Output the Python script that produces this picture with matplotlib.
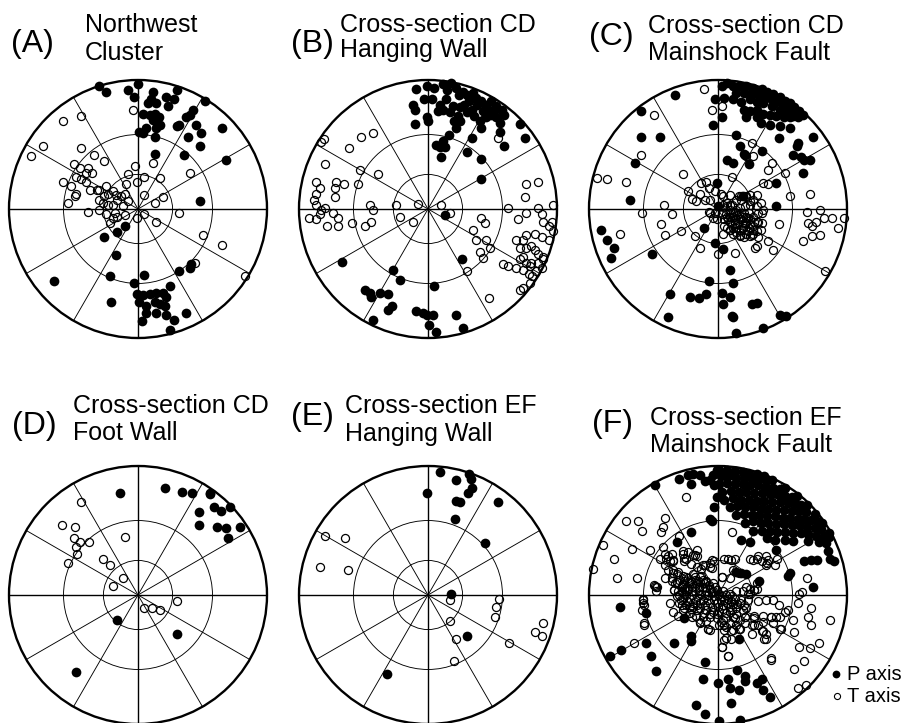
import matplotlib
matplotlib.use("Agg")
import matplotlib.pyplot as plt
import numpy as np
from matplotlib.patches import Circle
from matplotlib.lines import Line2D

plt.rcParams['font.family'] = ['Liberation Sans', 'DejaVu Sans']

# ---------------- data: projected positions (east, north) in % of primitive radius ----------------
A_P = [(-30,95),(-25,91),(-8,92),(0,97),(-3,87),(12,91),(30,92),(22,87),(28,85),(52,84),(10,85),(8,82),(14,82),(23,80),
       (4,74),(9,73),(13,74),(16,71),(12,69),(17,65),(14,63),(6,63),(1,60),(4,59),(13,56),(43,77),(40,73),(37,71),(32,65),
       (30,64),(45,65),(49,59),(65,63),(39,56),(48,49),(36,42),(13,43),(68,38),(48,6),
       (-10,-13),(-16,-18),(-26,-22),(-17,-36),(-22,-52),(-3,-57),(5,-51),(32,-48),(40,-46),(41,-43),(-1,-66),(4,-67),(9,-66),
       (14,-65),(19,-65),(25,-60),(22,-68),(1,-72),(6,-75),(13,-72),(17,-74),(21,-75),(6,-81),(14,-81),(22,-82),(28,-86),
       (37,-81),(3,-87),(25,-94),(-21,-72),(-65,-56)]
A_T = [(-4,77),(-58,68),(-44,72),(-74,49),(-83,41),(-44,47),(-34,42),(-26,37),(-50,35),(-45,32),(-39,32),(-40,28),(-36,28),
       (-48,25),(-44,23),(-58,21),(-52,18),(-40,21),(-37,15),(-32,15),(-48,12),(-54,5),(-49,10),(-30,7),(-26,10),(-23,12),
       (-19,14),(-17,11),(-27,5),(-23,3),(-19,3),(-16,7),(-13,10),(-10,12),(-9,19),(-8,27),(-2,33),(-1,21),(5,25),(17,24),
       (12,36),(40,28),(-8,6),(-12,2),(-18,-3),(-16,-6),(-19,-7),(-22,-11),(-25,-4),(-30,-1),(-39,-2),(-10,-5),(-1,-7),(5,11),
       (13,5),(19,9),(5,-4),(14,-10),(32,-3),(50,-20),(65,-28),(44,-42),(83,-52),(-25,18),(-30,15)]

B_P = [(-1,95),(5,94),(12,97),(18,98),(22,94),(27,91),(30,88),(35,90),(37,86),(41,84),(45,81),(49,84),(53,80),(57,77),
       (59,73),(53,71),(49,73),(45,71),(43,76),(40,68),(34,77),(28,81),(25,79),(19,80),(14,85),(12,77),(9,81),(8,76),(3,85),
       (-3,85),(0,68),(-1,71),(23,72),(25,68),(22,63),(41,63),(56,67),(56,60),(59,49),(71,66),(75,55),(34,55),(16,57),(12,53),
       (6,50),(9,48),(13,48),(10,40),(30,44),(41,39),
       (15,92),(24,88),(32,84),(38,81),(47,77),(51,76),(30,75),(36,72),(20,68),(17,75),
       (-9,93),(-12,81),(-10,77),(-10,66),(41,23),(13,-5),(26,-39),(5,-60),(-22,-55),(-27,-47),(-67,-41),(-49,-63),(-45,-65),
       (-44,-68),(-37,-65),(-31,-66),(-28,-75),(-31,-78),(-9,-79),(-4,-81),(-1,-82),(4,-82),(22,-82),(-43,-86),(1,-90),(6,-95),
       (27,-92)]
B_T = [(-83,52),(-81,54),(-61,47),(-52,56),(-43,59),(-80,35),(-39,27),(-53,30),(-54,19),(-65,19),(-71,21),(-72,16),(-72,9),
       (-87,21),(-84,16),(-87,12),(-88,7),(-87,3),(-83,-1),(-80,1),(-84,-4),(-92,-7),(-87,-8),(-74,-3),(-70,-7),(-70,-13),
       (-59,-11),(-78,-13),(-49,-13),(-44,-10),(-45,3),(-43,-1),(-25,3),(-22,-6),(-12,-10),(-8,4),(10,3),(17,-3),(54,55),
       (76,19),(85,21),(75,9),(62,1),(76,-3),(85,1),(88,-4),(70,-8),(89,-10),(96,-10),(97,3),(94,-13),(97,-17),(41,-7),(44,-11),
       (35,-16),(37,-24),(45,-24),(48,-30),(40,-33),(43,-38),(30,-48),(47,-69),(68,-24),(74,-24),(76,-20),(83,-19),(88,-22),
       (94,-24),(71,-30),(76,-30),(80,-29),(83,-32),(85,-35),(89,-37),(74,-37),(71,-39),(76,-42),(80,-42),(58,-43),(62,-44),
       (68,-46),(74,-47),(79,-44),(85,-42),(84,-48),(88,-46),(78,-50),(81,-52),(79,-57),(74,-61),(71,-63),(89,-39)]

C_P = [(7,98),(3,95),(12,95),(16,95),(22,95),(27,94),(34,93),(38,91),(43,89),(48,87),(52,84),(56,82),(59,79),(63,76),(66,73),
       (62,71),(14,90),(20,90),(25,89),(30,89),(35,87),(40,86),(45,83),(51,81),(56,78),(61,74),(5,86),(12,85),(18,83),(25,85),
       (30,83),(35,82),(42,80),(48,77),(53,76),(58,72),(20,77),(25,76),(30,77),(35,74),(40,73),(45,72),(51,71),(56,71),(22,71),
       (30,71),(33,67),(40,65),(48,64),(3,71),(-2,85),(-4,65),(14,57),(47,55),(56,63),(74,56),(62,51),(61,49),(58,42),(64,40),
       (67,38),(71,38),(66,28),(17,49),(20,43),(21,42),(34,45),(7,38),(12,36),(24,35),(45,20),(45,2),(-1,20),(-11,-15),
       (-2,-26),(4,-31),(9,-47),(-7,-56),(12,-57),(-37,-66),(-22,-68),(-15,-69),(-9,-66),(3,-65),(9,-68),(4,-74),(26,-74),
       (30,-73),(11,-83),(12,-84),(-39,-84),(14,-96),(35,-92),(48,-82),(53,-83),(-33,88),(-60,76),(-60,56),(-45,56),(-64,36),
       (-68,7),(-91,-16),(-86,-24),(-81,-30),(-83,-38),(-51,-35),(0,2),(19,10)]
C_T = [(-11,93),(-5,77),(3,80),(-50,73),(-60,42),(26,51),(22,41),(27,41),(42,36),(39,30),(52,28),(35,20),(39,19),(-27,27),
       (-23,14),(-13,20),(-9,21),(-7,16),(-14,12),(-10,7),(-17,6),(-20,8),(-6,7),(-2,14),(2,12),(4,10),(9,11),(11,25),(16,10),
       (18,7),(22,10),(25,6),(30,11),(33,5),(35,-1),(31,-3),(27,-6),(22,-6),(18,-3),(14,-1),(12,-3),(9,-6),(13,-8),(17,-8),
       (21,-11),(25,-12),(30,-10),(34,-11),(33,-16),(27,-19),(22,-19),(18,-16),(14,-15),(12,-19),(17,-21),(25,-21),(31,-22),
       (30,-29),(29,-30),(39,-25),(43,-32),(13,-34),(0,-35),(-14,-30),(-7,-2),(-6,-3),(-2,-3),(-4,-7),(-1,-8),(4,3),(7,2),
       (9,3),(5,-8),(7,-15),(9,-16),(4,-19),(-18,-21),(-29,-17),(-41,-20),(-44,-12),(-36,-4),(-42,3),(-59,-3),(-71,21),
       (-94,24),(-86,23),(-76,-19),(71,12),(69,-2),(79,-1),(88,-7),(98,-7),(82,-7),(76,-10),(70,-11),(73,-13),(93,-15),
       (66,-25),(73,-21),(79,-20),(83,-48),(47,-12),(56,10),
       (7,5),(11,3),(14,7),(18,10),(22,9),(9,-1),(13,-2),(17,1),(21,2),(25,3),(7,-6),(12,-6),(16,-4),(20,-3),(24,-3),(9,-10),
       (13,-11),(17,-8),(21,-10),(25,-8),(12,-15),(16,-16),(20,-13),(24,-15),(27,-13),(17,-20),(22,-19),(26,-20),(30,-17),
       (9,-16),(5,-13),(3,-4),(31,-10),(34,-3),(30,2),(27,7),(25,11),
       (10,-3),(15,-5),(19,-6),(23,-7),(11,-12),(15,-12),(19,-15),(23,-17),(14,-18),(20,-22),(27,-16),(28,-10),(8,-8),(6,-4)]

D_P = [(-14,79),(21,83),(34,80),(42,79),(56,79),(56,78),(59,68),(64,65),(71,68),(47,64),(47,54),(61,53),(68,52),(79,53),
       (70,44),(-16,-19),(30,-30),(-48,-60)]
D_T = [(-44,72),(-59,54),(-49,53),(-50,44),(-45,41),(-38,41),(-48,37),(-47,32),(-54,25),(-10,45),(-27,28),(-22,23),(-12,13),
       (-19,7),(5,-10),(11,-10),(17,-12),(30,-5)]

E_P = [(9,95),(32,94),(33,90),(22,89),(34,83),(31,79),(22,73),(25,72),(54,72),(-1,79),(21,59),(44,40),(18,1),(30,-32),(-32,-61)]
E_T = [(-80,46),(-64,44),(-84,22),(-62,19),(17,-4),(55,-3),(53,-9),(52,-17),(17,-20),(22,-34),(20,-51),(63,-37),(89,-22),
       (83,-29),(88,-32)]

F_P = [(1,97),(7,97),(13,96),(19,95),(24,94),(30,94),(36,92),
       (2,92),(8,92),(14,91),(20,91),(26,90),(32,90),(37,89),(42,89),
       (1,86),(7,87),(13,86),(19,86),(25,85),(31,85),(37,84),(43,83),(48,82),(52,83),
       (3,80),(10,81),(16,80),(22,80),(28,79),(34,79),(40,78),(46,78),(52,77),(57,76),(61,77),
       (5,74),(12,75),(18,74),(24,74),(30,73),(36,73),(42,72),(48,72),(54,71),(60,71),(64,70),(69,70),
       (9,68),(15,69),(21,68),(27,68),(33,67),(39,67),(45,66),(51,66),(57,65),(63,65),(68,64),(75,63),
       (14,62),(20,63),(26,62),(32,62),(38,61),(44,61),(50,60),(56,60),(62,59),(67,59),(72,58),(77,57),(81,56),
       (21,56),(27,57),(33,56),(39,56),(45,55),(51,55),(57,54),(63,54),(69,53),(75,52),(80,51),(86,48),
       (27,50),(34,50),(40,50),(46,49),(52,49),(58,48),(64,48),(70,47),(76,46),(82,46),(86,45),
       (38,44),(44,43),(52,43),(58,42),(70,42),(78,41),(84,40),
       (-49,85),(-30,90),(-23,93),(-19,94),(-14,93),(-21,86),(-10,88),(-6,89),(-4,93),(-1,97),(-3,85),(-1,76),(-3,68),(-6,59),
       (-5,57),(-21,49),(-32,41),
       (18,43),(25,41),(45,35),(56,17),(54,15),(32,11),(74,6),(14,18),(18,17),(22,16),(85,34),(90,26),(77,27),(72,27),(67,26),
       (87,28),
       (-76,-9),(-56,-14),(-84,-47),(-75,-43),(-56,-37),(-52,-47),(-48,-59),(-34,-37),(-21,-36),(-21,-32),(-10,-52),(15,-58),
       (-12,-65),(0,-68),(8,-65),(21,-63),(21,-67),(9,-72),(16,-74),(34,-65),(30,-68),(35,-74),(40,-79),(-17,-85),(-10,-92),
       (10,-84),(1,-98),(17,-97),(-26,-18),(16,-34)]
F_T = [(-25,76),(-71,57),(-62,57),(-59,50),(-41,60),(-43,53),(-44,49),(-30,46),(-89,39),(-67,36),(-53,35),(-43,37),(-81,28),
       (-97,20),(-78,13),(-63,13),(-49,7),(-48,6),(-58,-3),(-41,32),(-36,32),(-40,28),(-35,27),(-41,23),(-37,26),(-27,34),
       (-23,33),(-26,29),(-16,35),(-18,31),(-26,26),(-21,24),(-5,27),(-6,22),(-10,23),(-13,20),(-39,19),(-35,17),(-31,18),
       (-27,15),(-41,13),(-36,11),(-32,10),(-28,7),(-23,13),(-18,14),(-13,15),(-34,4),(-28,2),(-23,5),(-18,7),(-14,10),(-9,11),
       (11,49),(5,28),(10,27),(-3,26),(27,27),(30,28),(34,26),(38,25),(37,30),(46,28),(12,19),(3,14),(69,13),(63,1),(65,2),
       (28,4),(30,5),(23,1),
       (-35,19),(-32,16),(-36,13),(-30,12),(-25,14),(-19,16),(-14,14),(-9,10),(-4,9),(-27,8),(-22,9),(-17,9),(-12,6),(-6,5),
       (-1,4),(4,3),(9,1),(14,3),(19,3),(25,1),(-34,4),(-28,3),(-23,4),(-18,3),(-13,1),(-8,0),(-3,-1),(3,-1),(8,-3),(13,-3),
       (18,-4),(23,-4),(-32,-1),(-27,-3),(-22,-3),(-17,-4),(-12,-4),(-6,-6),(-1,-6),(4,-8),(9,-9),(14,-10),(19,-12),(-30,-6),
       (-25,-8),(-19,-9),(-14,-10),(-9,-12),(-4,-13),(1,-13),(6,-14),(12,-17),(17,-19),(-27,-12),(-22,-14),(-17,-16),(-12,-17),
       (-6,-17),(-1,-18),(4,-19),(9,-22),(14,-23),(6,-25),(12,-27),(17,-26),(-14,-21),(-8,-26),(-6,-27),(1,-23),(5,-27),
       (21,-17),(22,-10),(17,-6),(25,5),(28,4),(22,6),(-37,-6),(-35,-13),(-31,-16),(-58,-4),(-57,-8),(-50,8),(-47,6),(-48,3),
       (-39,30),(-35,26),(-27,32),(-25,28),(-19,31),(-16,30),(-12,23),(-6,25),(-5,21),(8,28),(13,28),(3,14),(9,13),(16,17),
       (25,28),(31,30),(39,27),(44,23),(37,23),(30,9),(31,-5),(37,-4),(43,-4),(47,-8),(41,-17),(45,-17),(48,-26),(52,-13),
       (35,-16),(28,-18),(35,-21),(35,-28),(37,-34),(28,-23),(26,-30),(10,-34),(5,-35),(3,-40),(8,-47),(41,-49),(-57,-23),
       (-16,22),(-45,28),
       (-28,6),(-24,6),(-20,6),(-15,6),(-10,6),(-30,0),(-25,0),(-20,0),(-15,0),(-10,0),(-5,2),(0,0),(-28,-8),(-22,-9),(-16,-8),
       (-10,-8),(-5,-9),(0,-9),(5,-4),(-33,9),(-18,12),(-12,12),(10,-5),(15,-7),(20,-8),(6,-18),(11,-12),
       (-32,10),(-26,11),(-21,11),(-16,11),(-11,9),(-7,8),(-2,6),(-31,3),(-26,5),(-20,3),(-15,4),(-9,3),(-4,3),(1,1),(6,0),
       (11,-1),(-29,-4),(-24,-5),(-19,-6),(-14,-6),(-8,-4),(-3,-4),(2,-4),(7,-6),(12,-7),(-26,-10),(-21,-11),(-16,-12),
       (-11,-14),(-6,-15),(-1,-15),(4,-11),(9,-13),(14,-15),(-20,-17),(-9,-20),(2,-21),
       (-58,-6),(-59,-12),(-57,-22),(-65,-37),(-14,-22),(-8,-26),(3,-40),(8,-47),(41,-50),(59,-57),(67,-51),(63,-40),(71,-41),
       (78,-37),(62,-72),(68,-70),(37,-30),(36,-34),(34,-28),(31,-23),(26,-23),(41,-17),(48,-17),(54,-12),(62,-6),(72,-10),
       (70,-17),(72,-23),(58,-19),(59,-29),(49,-26),(43,-22),(21,-22),(16,-26),(10,-28),(6,-33),(5,-23),(13,-18),(21,-17),
       (28,-16),(87,-19)]

PANEL_LETTERS = ["(A)", "(B)", "(C)", "(D)", "(E)", "(F)"]
PANEL_TITLES = [("Northwest", "Cluster"), ("Cross-section CD", "Hanging Wall"), ("Cross-section CD", "Mainshock Fault"),
                ("Cross-section CD", "Foot Wall"), ("Cross-section EF", "Hanging Wall"), ("Cross-section EF", "Mainshock Fault")]
P_SETS = [A_P, B_P, C_P, D_P, E_P, F_P]
T_SETS = [A_T, B_T, C_T, D_T, E_T, F_T]
SMALL_CIRCLE_PLUNGES = [60, 30]
SPOKE_AZIMUTHS = [0, 30, 60, 90, 120, 150]
LEGEND_LABELS = ["P axis", "T axis"]

# ---------------- layout (pixels) ----------------
W, H = 909, 723
fig = plt.figure(figsize=(W / 100, H / 100), dpi=100)
R_PX = 129
CENTERS = [(138, 209), (428, 209), (718, 209), (138, 595), (428, 595), (718, 595)]
LETTER_POS = [(11, 52), (291, 52), (589, 45), (12, 434), (291, 425), (592, 432)]
TITLE_POS = [(85, 32, 60), (340, 32, 57), (648, 33, 60), (73, 413, 440), (345, 413, 441), (650, 425, 452)]


def fx(x):
    return x / W


def fy(y):
    return 1 - y / H


for i, (cx, cy) in enumerate(CENTERS):
    pad = 1.12
    s = 2 * R_PX * pad
    ax = fig.add_axes([fx(cx - R_PX * pad), fy(cy + R_PX * pad), s / W, s / H])
    ax.set_xlim(-pad, pad)
    ax.set_ylim(-pad, pad)
    ax.set_aspect('equal')
    ax.axis('off')
    # stereographic small circles
    for pl in SMALL_CIRCLE_PLUNGES:
        r = np.tan(np.radians((90 - pl) / 2))
        ax.add_patch(Circle((0, 0), r, fill=False, lw=0.65, ec='k', zorder=1))
    for az in SPOKE_AZIMUTHS:
        a = np.radians(az)
        lw = 1.0 if az % 90 == 0 else 0.65
        ax.plot([-np.sin(a), np.sin(a)], [-np.cos(a), np.cos(a)], color='k', lw=lw, zorder=1,
                solid_capstyle='butt')
    ax.add_patch(Circle((0, 0), 1.0, fill=False, lw=1.7, ec='k', zorder=4))
    t = np.array(T_SETS[i], float) / 100
    p = np.array(P_SETS[i], float) / 100
    ax.plot(t[:, 0], t[:, 1], 'o', ms=5.8, mfc='none', mec='k', mew=0.9, ls='none', zorder=2, clip_on=False)
    ax.plot(p[:, 0], p[:, 1], 'o', ms=7.0, mfc='k', mec='k', mew=0, ls='none', zorder=3, clip_on=False)

    lx, ly = LETTER_POS[i]
    fig.text(fx(lx), fy(ly), PANEL_LETTERS[i], fontsize=23, va='baseline', ha='left')
    tx, ty1, ty2 = TITLE_POS[i]
    fig.text(fx(tx), fy(ty1), PANEL_TITLES[i][0], fontsize=18, va='baseline', ha='left')
    fig.text(fx(tx), fy(ty2), PANEL_TITLES[i][1], fontsize=18, va='baseline', ha='left')

# legend
fig.add_artist(Line2D([fx(836)], [fy(674)], marker='o', ms=5.6, mfc='k', mec='k', mew=0, ls='none',
                      transform=fig.transFigure))
fig.add_artist(Line2D([fx(837)], [fy(696)], marker='o', ms=4.4, mfc='none', mec='k', mew=0.8, ls='none',
                      transform=fig.transFigure))
fig.text(fx(847), fy(680), LEGEND_LABELS[0], fontsize=14.5, va='baseline', ha='left')
fig.text(fx(847), fy(702), LEGEND_LABELS[1], fontsize=14.5, va='baseline', ha='left')

fig.savefig("out.png", dpi=100)
